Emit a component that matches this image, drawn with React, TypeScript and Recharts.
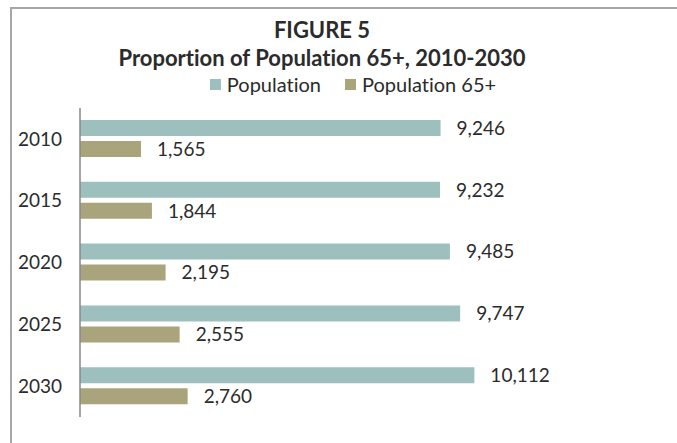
import React from 'react';
import { BarChart, Bar, XAxis, YAxis, LabelList } from 'recharts';

const years = ['2010', '2015', '2020', '2025', '2030'];
const population = [9246, 9232, 9485, 9747, 10112];
const population65 = [1565, 1844, 2195, 2555, 2760];

const POP_COLOR = '#9dbfbd';
const OLD_COLOR = '#a9a47c';
const FONT = 'Lato, "Open Sans", sans-serif';

const data = years.map((year, i) => ({
    year,
    pop: population[i],
    pop65: population65[i],
}));

const fmt = (v: any) => Number(v).toLocaleString('en-US');

const App: React.FC = () => {
    return (
        <div style={{ position: 'absolute', left: 0, top: 0, width: 677, height: 443, background: '#fff', overflow: 'hidden', fontVariantLigatures: 'none' }}>
            {/* frame, only top and left edges show in the crop */}
            <div style={{ position: 'absolute', left: 10, top: 7, width: 700, height: 500, borderTop: '2px solid #a6a6a6', borderLeft: '2px solid #a6a6a6' }} />
            <div style={{ position: 'absolute', left: 0, top: 16, width: 644, textAlign: 'center', fontFamily: FONT, fontWeight: 'bold', fontSize: 22, color: '#2b2b2b', lineHeight: '28px' }}>
                <div>FIGURE 5</div>
                <div>Proportion of Population 65+, 2010-2030</div>
            </div>
            {/* legend sits under the title */}
            <div style={{ position: 'absolute', left: 0, top: 72, width: 706, display: 'flex', justifyContent: 'center', fontFamily: FONT, fontSize: 20, color: '#2b2b2b', lineHeight: '24px' }}>
                <span style={{ display: 'flex', alignItems: 'center', marginRight: 24 }}>
                    <span style={{ width: 11, height: 11, background: POP_COLOR, marginRight: 6 }} />
                    Population
                </span>
                <span style={{ display: 'flex', alignItems: 'center' }}>
                    <span style={{ width: 11, height: 11, background: OLD_COLOR, marginRight: 6 }} />
                    Population 65+
                </span>
            </div>
            <BarChart
                width={677}
                height={443}
                data={data}
                layout="vertical"
                margin={{ top: 108, right: 129, bottom: 26, left: 0 }}
                barSize={16}
                barGap={5}
                style={{ position: 'absolute', left: 0, top: 0 }}
            >
                <XAxis type="number" domain={[0, 12000]} hide />
                <YAxis
                    type="category"
                    dataKey="year"
                    width={80}
                    tickLine={false}
                    tickSize={0}
                    tickMargin={18}
                    axisLine={{ stroke: '#888', strokeWidth: 1.5 }}
                    tick={{ fill: '#2b2b2b', fontSize: 19, fontFamily: FONT }}
                />
                <Bar dataKey="pop" name="Population" fill={POP_COLOR} isAnimationActive={false}>
                    <LabelList dataKey="pop" position="right" offset={16} formatter={fmt} fill="#2b2b2b" fontSize={19} fontFamily={FONT} />
                </Bar>
                <Bar dataKey="pop65" name="Population 65+" fill={OLD_COLOR} isAnimationActive={false}>
                    <LabelList dataKey="pop65" position="right" offset={16} formatter={fmt} fill="#2b2b2b" fontSize={19} fontFamily={FONT} />
                </Bar>
            </BarChart>
        </div>
    );
};

export default App;
